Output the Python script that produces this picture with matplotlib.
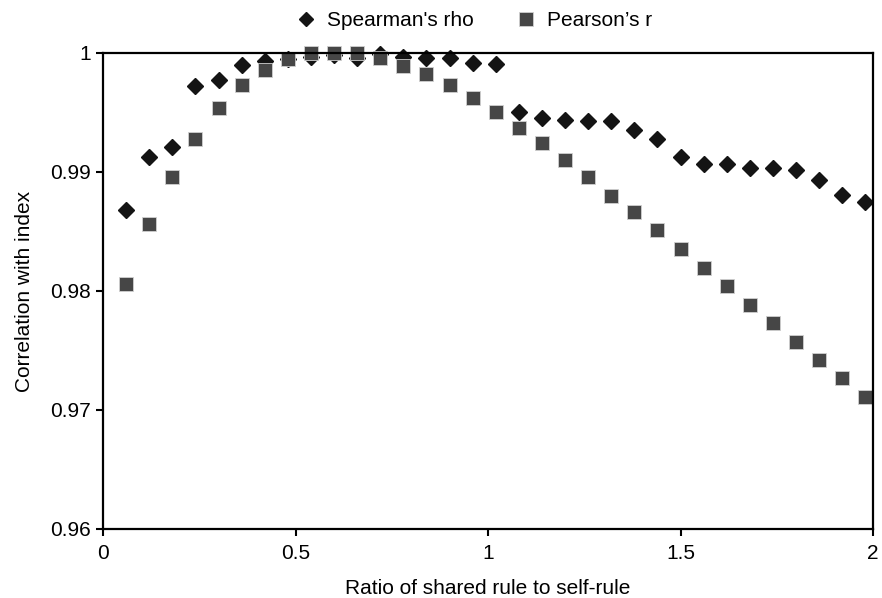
import numpy as np
import matplotlib.pyplot as plt
from matplotlib.ticker import FuncFormatter

plt.rcParams['font.family'] = ['Liberation Sans', 'DejaVu Sans']

# ratio of shared rule to self-rule
ratio = [0.06, 0.12, 0.18, 0.24, 0.30, 0.36, 0.42, 0.48, 0.54, 0.60, 0.66,
         0.72, 0.78, 0.84, 0.90, 0.96, 1.02, 1.08, 1.14, 1.20, 1.26, 1.32,
         1.38, 1.44, 1.50, 1.56, 1.62, 1.68, 1.74, 1.80, 1.86, 1.92, 1.98]

spearman = [0.9868, 0.9913, 0.9921, 0.9972, 0.9977, 0.9990, 0.9993, 0.9995,
            0.9997, 0.9998, 0.9996, 0.9999, 0.9997, 0.99955, 0.99955, 0.9992,
            0.9991, 0.9950, 0.9945, 0.9944, 0.9943, 0.9943, 0.9935, 0.9928,
            0.9913, 0.9907, 0.9907, 0.9903, 0.9903, 0.9902, 0.9893, 0.9881,
            0.9875]

pearson = [0.9806, 0.9856, 0.9896, 0.9928, 0.9954, 0.9973, 0.9986, 0.9995,
           1.0000, 1.0000, 1.0000, 0.9996, 0.9989, 0.9982, 0.9973, 0.9962,
           0.9950, 0.9937, 0.9924, 0.9910, 0.9896, 0.9880, 0.9866, 0.9851,
           0.9835, 0.9819, 0.9804, 0.9788, 0.9773, 0.9757, 0.9742, 0.9727,
           0.9711]

fs = 15

fig = plt.figure(figsize=(8.82, 5.98), dpi=100)
ax = fig.add_axes([0.1168, 0.1154, 0.8730, 0.7960])

ax.plot(ratio, spearman, linestyle='none', marker='D', markersize=8,
        color='#141414', markeredgecolor='#141414', clip_on=False,
        label="Spearman's rho")
ax.plot(ratio, pearson, linestyle='none', marker='s', markersize=10.5,
        color='#464646', markeredgecolor='#d0d0d0', markeredgewidth=0.6,
        clip_on=False, label="Pearson\u2019s r")

ax.set_xlim(0, 2)
ax.set_ylim(0.96, 1.0)
ax.set_xticks([0, 0.5, 1, 1.5, 2])
ax.set_yticks([0.96, 0.97, 0.98, 0.99, 1.0])
fmt = FuncFormatter(lambda v, p: '%g' % round(v, 4))
ax.xaxis.set_major_formatter(fmt)
ax.yaxis.set_major_formatter(fmt)
ax.tick_params(direction='out', length=5, width=1.5, labelsize=fs,
               pad=4, colors='black')
ax.tick_params(axis='x', pad=6)

for s in ax.spines.values():
    s.set_linewidth(1.6)
    s.set_color('black')

ax.set_xlabel('Ratio of shared rule to self-rule', fontsize=fs, labelpad=11)
ax.set_ylabel('Correlation with index', fontsize=fs, labelpad=11)

fig.legend(loc='center', bbox_to_anchor=(0.537, 0.966), ncol=2, frameon=False,
           fontsize=fs, handletextpad=0.5, columnspacing=2.0,
           handlelength=1.0, borderaxespad=0, markerscale=0.9)

fig.savefig('out.png', dpi=100)
